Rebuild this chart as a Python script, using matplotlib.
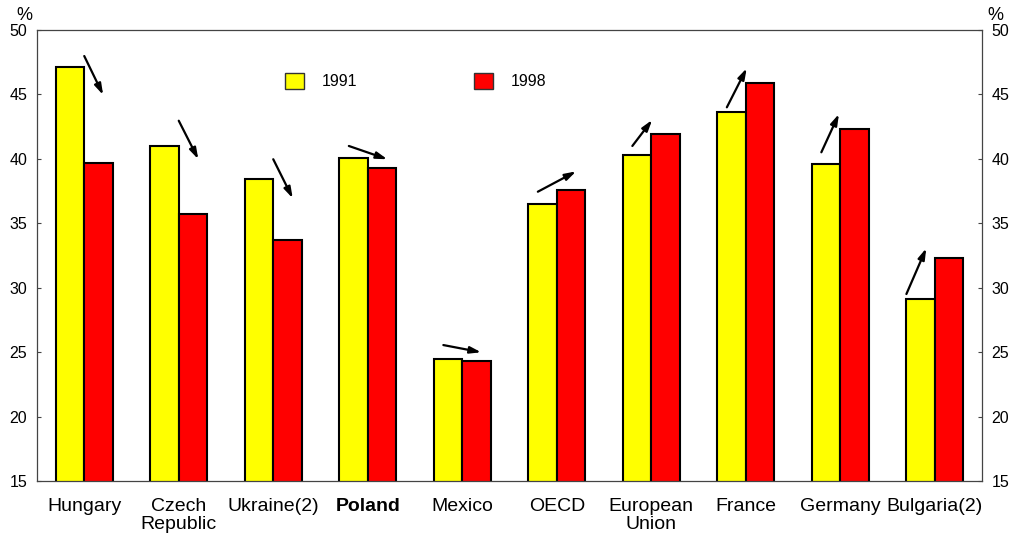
import matplotlib
matplotlib.use("Agg")
import matplotlib.pyplot as plt
import numpy as np

plt.rcParams['font.family'] = ['Liberation Sans', 'DejaVu Sans']

categories = ["Hungary", "Czech\nRepublic", "Ukraine(2)", "Poland", "Mexico", "OECD",
              "European\nUnion", "France", "Germany", "Bulgaria(2)"]
values_1991 = [47.1, 41.0, 38.4, 40.1, 24.5, 36.5, 40.3, 43.6, 39.6, 29.1]
values_1998 = [39.7, 35.7, 33.7, 39.3, 24.3, 37.6, 41.9, 45.9, 42.3, 32.3]
series_labels = ["1991", "1998"]

# arrow annotations: (start dx, start y, end dx, end y) relative to group centre
arrow_x0 = [0.00, 0.00, 0.00, -0.20, -0.20, -0.20, -0.20, -0.20, -0.20, -0.30]
arrow_y0 = [47.98, 42.96, 39.97, 41.0, 25.55, 37.45, 41.0, 44.0, 40.51, 29.51]
arrow_x1 = [0.20, 0.207, 0.206, 0.207, 0.20, 0.205, 0.01, 0.01, -0.014, -0.09]
arrow_y1 = [44.96, 39.97, 36.94, 39.97, 24.99, 39.03, 43.02, 47.03, 43.48, 33.06]

fig = plt.figure(figsize=(10.14, 5.37), dpi=100)
ax = fig.add_axes([37/1014, 56/537, 945/1014, 451/537])

x = np.arange(len(categories))
w = 0.30
ax.bar(x - w/2, values_1991, w, color='#FFFF00', edgecolor='black',
       linewidth=1.5, label=series_labels[0], zorder=2)
ax.bar(x + w/2, values_1998, w, color='#FF0000', edgecolor='black',
       linewidth=1.5, label=series_labels[1], zorder=2)

for i in range(len(categories)):
    ax.annotate("", xy=(x[i] + arrow_x1[i], arrow_y1[i]),
                xytext=(x[i] + arrow_x0[i], arrow_y0[i]),
                arrowprops=dict(arrowstyle='-|>,head_length=0.65,head_width=0.2',
                                color='black', lw=1.6, shrinkA=0, shrinkB=0),
                zorder=3)

ax.set_xlim(-0.5, len(categories) - 0.5)
ax.set_ylim(15, 50)
ax.set_yticks(np.arange(15, 51, 5))
ax.set_xticks(x)
ax.set_xticklabels(categories, fontsize=14, linespacing=1.08)
for lbl in ax.get_xticklabels():
    if lbl.get_text() == "Poland":
        lbl.set_fontweight('bold')
ax.tick_params(axis='x', length=0, pad=12)
ax.tick_params(axis='y', which='both', direction='in', length=3, width=0.8,
               labelsize=11.5, pad=7, left=True, right=True,
               labelleft=True, labelright=True, color='#444444')

for s in ax.spines.values():
    s.set_color('#444444')
    s.set_linewidth(0.9)

fig.text(24/1014, 1 - 15/537, "%", fontsize=13, ha='center', va='center')
fig.text(995/1014, 1 - 15/537, "%", fontsize=13, ha='center', va='center')

leg = ax.legend(loc='center left', bbox_to_anchor=(0.247, 0.887), ncol=2, frameon=False,
                fontsize=11.5, handlelength=1.19, handleheight=1.19, handletextpad=1.1,
                columnspacing=7.36)
for h in leg.legend_handles:
    h.set_linewidth(1.0)
    h.set_edgecolor('#333333')

fig.savefig("out.png", dpi=100)
